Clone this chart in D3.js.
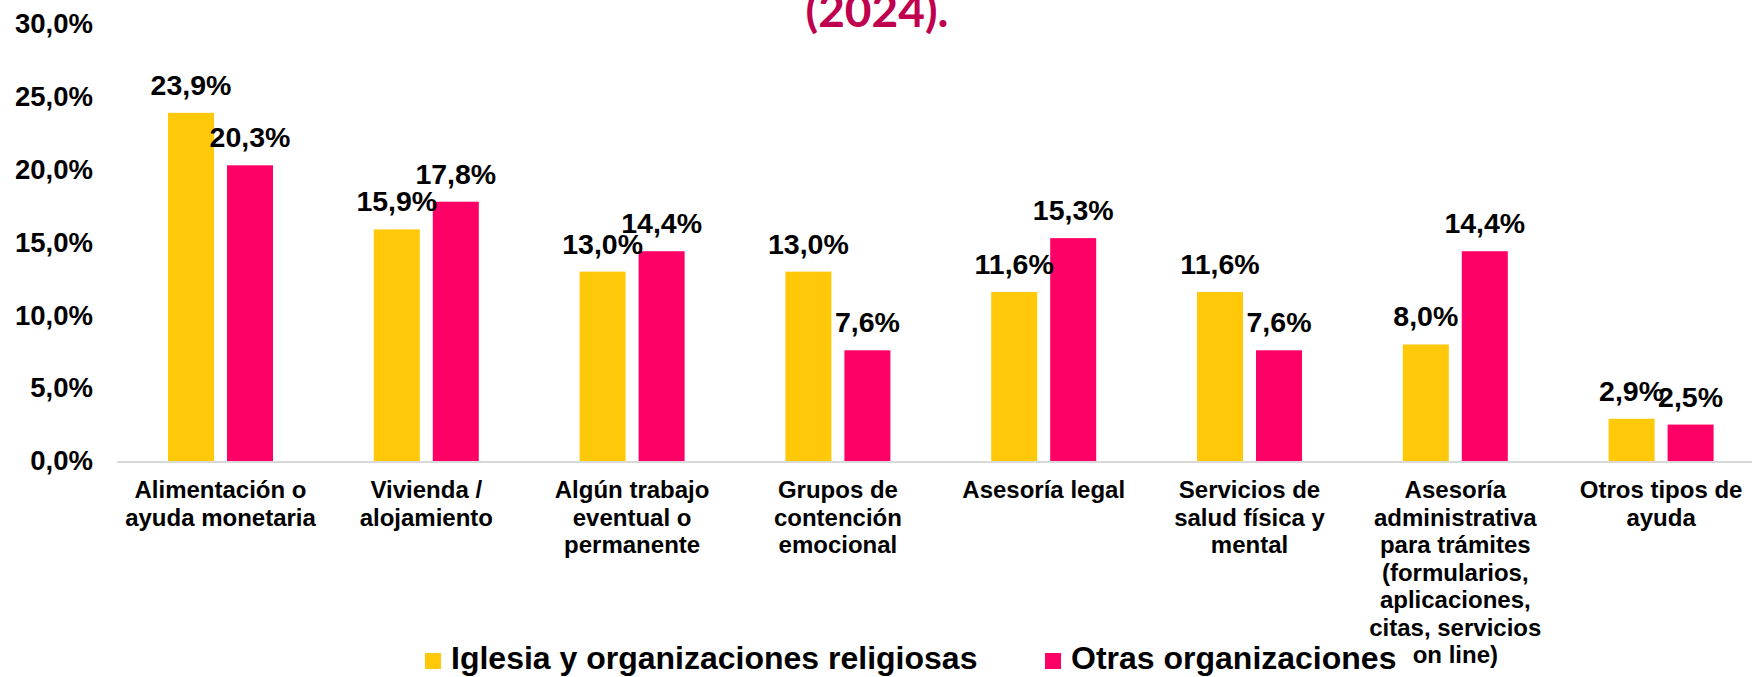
<!DOCTYPE html>
<html>
<head>
<meta charset="utf-8">
<script src="https://cdn.jsdelivr.net/npm/d3@7"></script>
<style>
  html, body { margin: 0; padding: 0; background: #fff; overflow: hidden; }
  svg { display: block; font-family: "Liberation Sans", Arial, sans-serif; font-weight: bold; }
</style>
</head>
<body>
<svg width="1752" height="677"></svg>
<script>
// categories (x labels, already wrapped as in the chart)
const categories = [
  ["Alimentación o", "ayuda monetaria"],
  ["Vivienda /", "alojamiento"],
  ["Algún trabajo", "eventual o", "permanente"],
  ["Grupos de", "contención", "emocional"],
  ["Asesoría legal"],
  ["Servicios de", "salud física y", "mental"],
  ["Asesoría", "administrativa", "para trámites", "(formularios,", "aplicaciones,", "citas, servicios", "on line)"],
  ["Otros tipos de", "ayuda"]
];
const seriesNames = ["Iglesia y organizaciones religiosas", "Otras organizaciones"];
const iglesia = [23.9, 15.9, 13.0, 13.0, 11.6, 11.6, 8.0, 2.9];
const otras = [20.3, 17.8, 14.4, 7.6, 15.3, 7.6, 14.4, 2.5];
const yTicks = [0, 5, 10, 15, 20, 25, 30];
const colors = ["#FFC90A", "#FF0066"];

const svg = d3.select("svg"),
    width = +svg.attr("width"),
    height = +svg.attr("height");

const fmt = v => d3.format(".1f")(v).replace(".", ",") + "%";

// scales
const keys = categories.map((d, i) => i);
const x0 = d3.scaleBand().domain(keys).range([117.6, 1764]).padding(0);
const x1 = d3.scaleBand().domain([0, 1])
    .range([x0.bandwidth() / 2 - 52.5, x0.bandwidth() / 2 + 52.5])
    .paddingInner(0.22);
const y = d3.scaleLinear().domain([0, 30]).range([461, 24]);

// title (only the last line is visible, the rest is above the frame)
svg.append("text")
    .attr("x", 877).attr("y", 27)
    .attr("text-anchor", "middle")
    .style("font-family", "Lato, 'Open Sans', sans-serif")
    .style("font-size", "46px")
    .style("fill", "#C0004F")
    .text("(2024).");

// y axis
const yAxis = svg.append("g")
    .attr("transform", "translate(93,0)")
    .call(d3.axisLeft(y).tickValues(yTicks).tickSize(0).tickPadding(0).tickFormat(fmt));
yAxis.select(".domain").remove();
yAxis.selectAll("text")
    .style("font-family", "'Liberation Sans', Arial, sans-serif")
    .style("font-weight", "bold")
    .style("font-size", "27.5px")
    .style("fill", "#000");

// bars
const data = keys.map(i => [iglesia[i], otras[i]]);
const groups = svg.append("g").selectAll("g")
    .data(data)
    .join("g")
    .attr("transform", (d, i) => `translate(${x0(i)},0)`);

groups.selectAll("rect")
    .data(d => d.map((v, s) => ({ v, s })))
    .join("rect")
    .attr("x", d => x1(d.s))
    .attr("width", x1.bandwidth())
    .attr("y", d => y(d.v))
    .attr("height", d => y(0) - y(d.v))
    .attr("fill", d => colors[d.s]);

groups.selectAll("text.val")
    .data(d => d.map((v, s) => ({ v, s })))
    .join("text")
    .attr("class", "val")
    .attr("x", d => x1(d.s) + x1.bandwidth() / 2)
    .attr("y", d => y(d.v) - 18)
    .attr("text-anchor", "middle")
    .style("font-size", "28.5px")
    .style("fill", "#000")
    .text(d => fmt(d.v));

// x axis line
svg.append("line")
    .attr("x1", 117).attr("x2", width)
    .attr("y1", y(0) + 1).attr("y2", y(0) + 1)
    .attr("stroke", "#D9D9D9").attr("stroke-width", 2);

// x labels
const xl = svg.append("g").selectAll("text")
    .data(categories)
    .join("text")
    .attr("text-anchor", "middle")
    .attr("transform", (d, i) => `translate(${x0(i) + x0.bandwidth() / 2},498)`)
    .style("font-size", "24px")
    .style("fill", "#000");
xl.selectAll("tspan")
    .data(d => d)
    .join("tspan")
    .attr("x", 0)
    .attr("y", (d, j) => j * 27.5)
    .text(d => d);

// legend
const legendX = [425, 1045];
const legend = svg.append("g").selectAll("g")
    .data(seriesNames)
    .join("g")
    .attr("transform", (d, i) => `translate(${legendX[i]},653)`);
legend.append("rect")
    .attr("width", 16).attr("height", 16)
    .attr("fill", (d, i) => colors[i]);
legend.append("text")
    .attr("x", 26).attr("y", 16)
    .style("font-size", "32px")
    .style("fill", "#000")
    .text(d => d);
</script>
</body>
</html>
